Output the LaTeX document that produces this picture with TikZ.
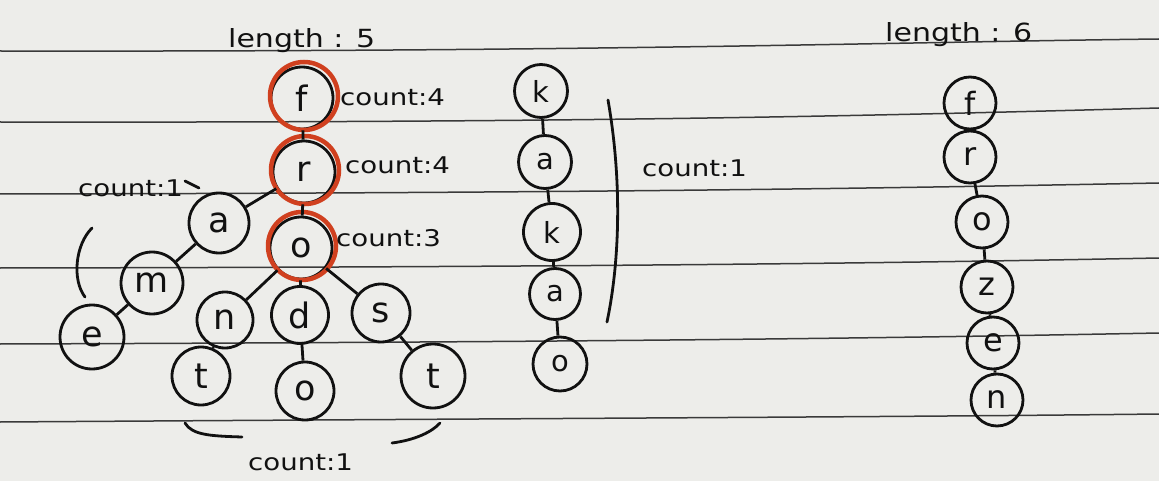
\documentclass[tikz,border=0pt]{standalone}
\usepackage{fontspec}
\setmainfont{DejaVu Sans}
\newfontfamily\handfont[FakeStretch=1.2]{DejaVu Sans}
\definecolor{paper}{HTML}{EDEDEA}
\definecolor{inkc}{HTML}{111111}
\definecolor{redc}{HTML}{D0401F}
\definecolor{rulec}{HTML}{3A3A3A}
\begin{document}
\begin{tikzpicture}[x=1pt,y=-1pt,
  ink/.style={draw=inkc, line width=2.8pt, text=inkc},
  bignode/.style={circle, ink, minimum size=58pt, inner sep=0pt, font=\fontsize{35}{35}\selectfont},
  colnode/.style={circle, ink, minimum size=53pt, inner sep=0pt, font=\fontsize{29}{29}\selectfont},
  rcolnode/.style={circle, ink, minimum size=52pt, inner sep=0pt, font=\fontsize{32}{32}\selectfont},
  redring/.style={circle, draw=redc, line width=4.5pt, minimum size=68pt, inner sep=0pt},
  lbl/.style={font=\handfont\fontsize{23}{23}\selectfont, text=inkc, inner sep=0pt, anchor=base west},
  lenlbl/.style={font=\handfont\fontsize{25}{25}\selectfont, text=inkc, inner sep=0pt, anchor=base west},
  link/.style={draw=inkc, line width=2.8pt},
  penstroke/.style={draw=inkc, line width=2.8pt, line cap=round},
  ruleline/.style={draw=rulec, line width=1.5pt}]
% paper
\fill[paper] (0,0) rectangle (1159,481);
\useasboundingbox (0,0) rectangle (1159,481);
% ruled lines
\draw[ruleline] (0,51) .. controls (600,52) and (900,42) .. (1159,39);
\draw[ruleline] (0,122) .. controls (600,123) and (900,115) .. (1159,108);
\draw[ruleline] (0,194) .. controls (600,193) and (900,188) .. (1159,183);
\draw[ruleline] (0,268) .. controls (600,267) and (900,263) .. (1159,258);
\draw[ruleline] (0,344) .. controls (600,342) and (900,338) .. (1159,333);
\draw[ruleline] (0,422) .. controls (600,418) and (900,417) .. (1159,414);

% ---------- left tree ----------
\node[lenlbl] (len5) at (228,48) {length : 5};
\node[bignode, minimum size=62pt] (f) at (302,98) {f};
\node[bignode, minimum size=62pt] (r) at (304,172) {r};
\node[bignode, minimum size=62pt] (o) at (301,248) {o};
\node[redring] (fring) at (304,96) {};
\node[redring] (rring) at (305,170) {};
\node[redring] (oring) at (302,246) {};
\node[lbl] (cf) at (340,106) {count:4};
\node[lbl] (cr) at (345,174) {count:4};
\node[lbl] (co) at (336,247) {count:3};

\node[bignode, minimum size=60pt] (a) at (219,223) {a};
\node[bignode, minimum size=62pt] (m) at (152,283) {m};
\node[bignode, minimum size=64pt] (e) at (92,337) {e};
\node[bignode, minimum size=56pt] (n) at (225,320) {n};
\node[bignode, minimum size=57pt] (d) at (300,315) {d};
\node[bignode, minimum size=58pt] (s) at (381,313) {s};
\node[bignode] (tl) at (201,376) {t};
\node[bignode] (ob) at (305,391) {o};
\node[bignode, minimum size=64pt] (tr) at (433,376) {t};

\draw[link] (f) -- (r);
\draw[link] (r) -- (o);
\draw[link] (r) -- (a);
\draw[link] (a) -- (m);
\draw[link] (m) -- (e);
\draw[link] (o) -- (n);
\draw[link] (o) -- (d);
\draw[link] (o) -- (s);
\draw[link] (n) -- (tl);
\draw[link] (d) -- (ob);
\draw[link] (s) -- (tr);

\node[lbl] (cam) at (78,197) {count:1};
\draw[penstroke] (185,181) -- (199,188);
\draw[penstroke] (92,228) .. controls (75,245) and (72,280) .. (85,297);
\draw[penstroke] (185,423) .. controls (192,435) and (210,436) .. (242,437);
\draw[penstroke] (392,443) .. controls (415,440) and (432,432) .. (440,423);
\node[lbl] (cb) at (248,470) {count:1};

% ---------- middle column ----------
\node[colnode] (k1) at (541,91) {k};
\node[colnode] (a1) at (545,162) {a};
\node[colnode, minimum size=57pt] (k2) at (552,232) {k};
\node[colnode, minimum size=51pt] (a2) at (555,294) {a};
\node[colnode, minimum size=54pt] (o2) at (560,364) {o};
\draw[link] (k1) -- (a1);
\draw[link] (a1) -- (k2);
\draw[link] (k2) -- (a2);
\draw[link] (a2) -- (o2);
\draw[penstroke] (608,100) .. controls (622,180) and (620,260) .. (607,322);
\node[lbl] (ck) at (642,177) {count:1};

% ---------- right column ----------
\node[lenlbl] (len6) at (885,42) {length : 6};
\node[rcolnode] (f3) at (970,103) {f};
\node[rcolnode] (r3) at (970,157) {r};
\node[rcolnode] (o3) at (982,222) {o};
\node[rcolnode] (z3) at (987,287) {z};
\node[rcolnode] (e3) at (993,343) {e};
\node[rcolnode] (n3) at (997,400) {n};
\draw[link] (f3) -- (r3);
\draw[link] (r3) -- (o3);
\draw[link] (o3) -- (z3);
\draw[link] (z3) -- (e3);
\draw[link] (e3) -- (n3);
\end{tikzpicture}
\end{document}
